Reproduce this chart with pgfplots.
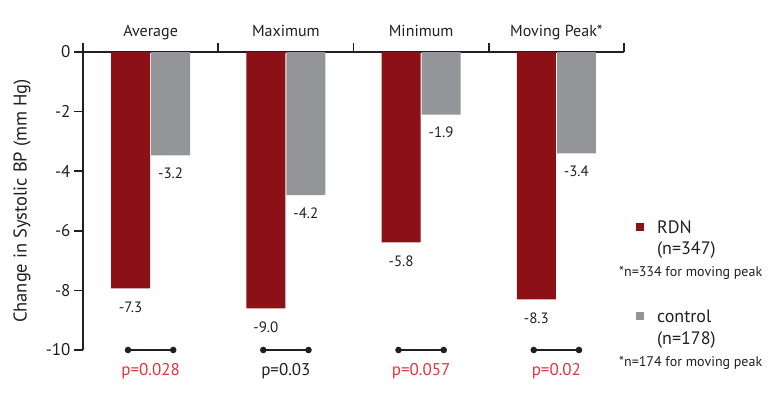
\documentclass[border=0pt]{standalone}
\usepackage{pgfplots}
\pgfplotsset{compat=1.18}
\usepackage{pgfplotstable}
\usepackage{fontspec}
\setmainfont{PT Sans}
\definecolor{rdn}{RGB}{140,17,22}
\definecolor{ctrl}{RGB}{148,149,152}
\definecolor{pred}{RGB}{226,52,58}
\definecolor{txt}{RGB}{35,31,32}

\pgfplotstableread{
x y lab
0.5 -7.93 -7.3
1.5 -8.60 -9.0
2.5 -6.39 -5.8
3.5 -8.30 -8.3
}\rdndata
\pgfplotstableread{
x y lab
0.5 -3.47 -3.2
1.5 -4.80 -4.2
2.5 -2.10 -1.9
3.5 -3.40 -3.4
}\ctrldata

\begin{document}
\begin{tikzpicture}
\useasboundingbox (-83pt,-50pt) rectangle (701pt,350pt);
\begin{axis}[
  at={(0,0)}, anchor=south west,
  scale only axis, width=541pt, height=298pt,
  xmin=0, xmax=4, ymin=-10, ymax=0,
  clip=false,
  axis x line*=top, axis y line*=left,
  axis line style={line width=1.6pt, txt},
  xtick={0,1,2,3,4}, xticklabels={},
  ytick={-10,-8,-6,-4,-2,0},
  xtick align=outside, ytick align=outside,
  major tick length=9pt,
  tick style={line width=1.6pt, txt},
  /pgf/number format/assume math mode=true,
  yticklabel style={font=\fontsize{17}{20}\selectfont, text=txt},
  ylabel={Change in Systolic BP (mm Hg)},
  ylabel style={at={(axis description cs:-0.1128,0.5)}, anchor=center, font=\fontsize{18.5}{22}\selectfont, text=txt},
  legend cell align=left,
  legend style={at={(axis cs:4.089,-5.681)}, anchor=north west, draw=none, fill=none,
    inner sep=0pt, outer sep=0pt,
    row sep=73pt, font=\fontsize{18}{22}\selectfont, text=txt,
    nodes={inner sep=0pt, outer sep=0pt, text height=12pt, text depth=4pt},
    /tikz/every odd column/.append style={column sep=13pt}},
]
\addplot[ybar, bar width=39pt, bar shift=-20pt, fill=rdn, draw=none,
  nodes near coords, point meta=explicit symbolic,
  nodes near coords style={anchor=north, xshift=-20pt, yshift=-10pt, font=\fontsize{15}{17}\selectfont, text=txt},
  legend image code/.code={\fill[rdn] (0pt,-1.5pt) rectangle (8pt,6.5pt);}]
  table[x=x, y=y, meta=lab]{\rdndata};
\addlegendentry{RDN}
\addplot[ybar, bar width=39pt, bar shift=20pt, fill=ctrl, draw=none,
  nodes near coords, point meta=explicit symbolic,
  nodes near coords style={anchor=north, xshift=20pt, yshift=-9pt, font=\fontsize{15}{17}\selectfont, text=txt},
  legend image code/.code={\fill[ctrl] (0pt,-1.5pt) rectangle (8pt,6.5pt);}]
  table[x=x, y=y, meta=lab]{\ctrldata};
\addlegendentry{control}

\addplot[txt, line width=1.3pt, mark=*, mark size=2.6pt, forget plot] coordinates {(0.333,-10) (0.667,-10)};
\addplot[txt, line width=1.3pt, mark=*, mark size=2.6pt, forget plot] coordinates {(1.333,-10) (1.667,-10)};
\addplot[txt, line width=1.3pt, mark=*, mark size=2.6pt, forget plot] coordinates {(2.333,-10) (2.667,-10)};
\addplot[txt, line width=1.3pt, mark=*, mark size=2.6pt, forget plot] coordinates {(3.333,-10) (3.667,-10)};

\foreach \xx/\lab in {0.5/Average, 1.5/Maximum, 2.5/Minimum, 3.5/Moving Peak*}{
  \edef\temp{\noexpand\node[anchor=base, font=\noexpand\fontsize{16}{19}\noexpand\selectfont, text=txt, yshift=15.5pt] at (axis cs:\xx,0) {\lab};}
  \temp
}
\node[anchor=base, font=\fontsize{17}{20}\selectfont, text=pred, yshift=-25.5pt] at (axis cs:0.5,-10) {p=0.028};
\node[anchor=base, font=\fontsize{17}{20}\selectfont, text=txt, yshift=-25.5pt] at (axis cs:1.5,-10) {p=0.03};
\node[anchor=base, font=\fontsize{17}{20}\selectfont, text=pred, yshift=-25.5pt] at (axis cs:2.5,-10) {p=0.057};
\node[anchor=base, font=\fontsize{17}{20}\selectfont, text=pred, yshift=-25.5pt] at (axis cs:3.5,-10) {p=0.02};

\node[anchor=base west, inner sep=0pt, font=\fontsize{18}{22}\selectfont, text=txt] at (axis cs:4.244,-6.789) {(n=347)};
\node[anchor=base west, inner sep=0pt, font=\fontsize{14}{17}\selectfont, text=txt] at (axis cs:3.963,-7.527) {*n=334 for moving peak};
\node[anchor=base west, inner sep=0pt, font=\fontsize{18}{22}\selectfont, text=txt] at (axis cs:4.244,-9.809) {(n=178)};
\node[anchor=base west, inner sep=0pt, font=\fontsize{14}{17}\selectfont, text=txt] at (axis cs:3.963,-10.547) {*n=174 for moving peak};
\end{axis}
\end{tikzpicture}
\end{document}
